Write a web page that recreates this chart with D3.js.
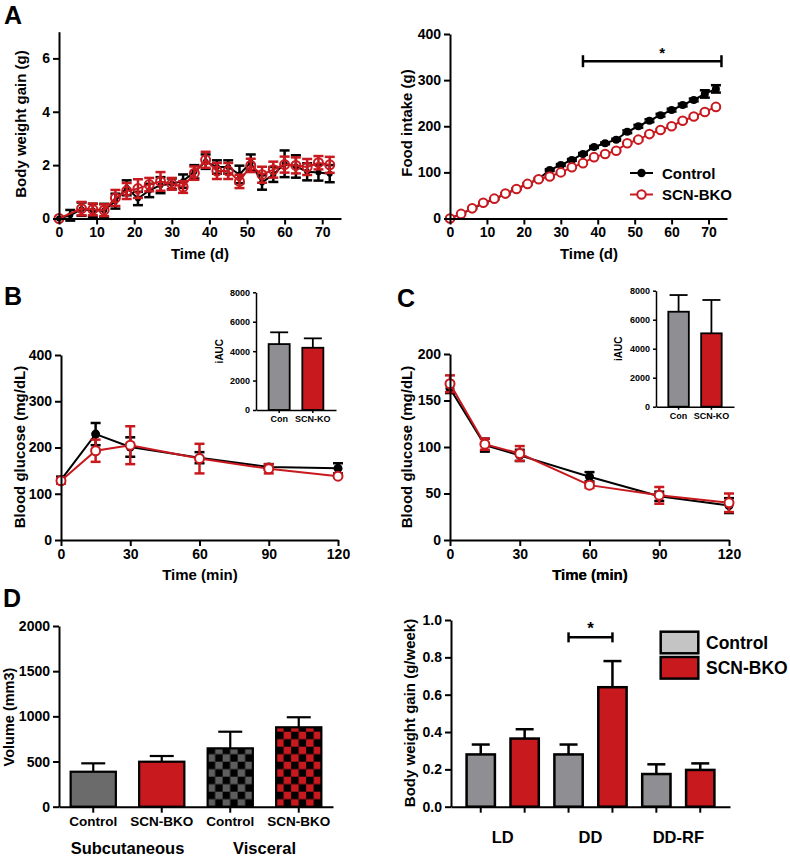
<!DOCTYPE html>
<html><head><meta charset="utf-8">
<script src="https://cdn.jsdelivr.net/npm/d3@7"></script>
<style>
body{margin:0;background:#fff}
text{font-family:"Liberation Sans",Arial,sans-serif;font-weight:bold}
</style>
</head><body>
<svg id="c" width="790" height="859"></svg>
<script>
// ---------------- DATA ----------------
const daysA = [0,3,6,9,12,15,18,21,24,27,30,33,36,39,42,45,48,51,54,57,60,63,66,69,72];
const bwCtrl    = [0,0.12,0.35,0.3,0.3,0.65,1.15,0.75,1.05,1.25,1.3,1.4,1.75,2.13,1.93,1.93,1.65,2.1,1.35,1.65,2.05,1.95,1.75,1.72,1.68];
const bwCtrlErr = [0,0.2,0.25,0.25,0.25,0.28,0.28,0.25,0.25,0.3,0.2,0.25,0.25,0.27,0.25,0.25,0.33,0.3,0.27,0.28,0.5,0.42,0.32,0.3,0.32];
const bwScn     = [0,null,0.37,0.34,0.31,0.77,1.03,1.12,1.27,1.39,1.3,1.18,1.7,2.2,1.78,1.78,1.39,1.99,1.64,1.83,2.02,1.99,1.93,2.09,2.01];
const bwScnErr  = [0,null,0.25,0.22,0.22,0.3,0.3,0.35,0.25,0.35,0.22,0.22,0.25,0.3,0.3,0.3,0.25,0.25,0.3,0.3,0.3,0.3,0.3,0.25,0.3];

const foodCtrl    = [0,10,21,33,42,53,64,75,86,105,116,127,140,155,163,171,188,200,212,224,235,246,257,270,281];
const foodCtrlErr = [0,1,1,1,1,1,1,2,2,2,2,2,2,2,2,2,3,3,3,3,3,3,3,8,8];
const foodScn     = [0,10,22,34,43,54,64,75,85,91,100,111,120,133,140,147,163,171,183,192,200,212,221,231,242];
const foodScnErr  = [0,1,1,1,1,1,1,1,1,1,1,1,1,1,1,1,1,2,2,2,2,2,2,2,2];
const foodSig = {from:36, to:73.5, level:341};

const timesGlu = [0,15,30,60,90,120];
const gttCtrl    = [130,229,201,178,158,155];
const gttCtrlErr = [7,24,21,12,6,11];
const gttScn     = [128,193,205,176,154,138];
const gttScnErr  = [6,24,41,32,10,3];
const iaucGtt    = [4480,4230];
const iaucGttErr = [800,640];

const ittCtrl    = [163,102,91,68,47,37];
const ittCtrlErr = [5,7,6,5,5,8];
const ittScn     = [168,103,93,59,48,40];
const ittScnErr  = [9,6,8,3,9,10];
const iaucItt    = [6550,5060];
const iaucIttErr = [1150,2300];
const iaucCats   = ["Con","SCN-KO"];

const volIds    = ["subCtrl","subScn","visCtrl","visScn"];
const volLabels = ["Control","SCN-BKO","Control","SCN-BKO"];
const volGroups = ["Subcutaneous","Visceral"];
const volValues = [387,498,646,879];
const volErr    = [93,63,184,111];

const gainConds   = ["LD","DD","DD-RF"];
const gainCtrl    = [0.28,0.28,0.175];
const gainCtrlErr = [0.053,0.053,0.052];
const gainScn     = [0.365,0.64,0.197];
const gainScnErr  = [0.05,0.14,0.035];
const gainSig = {cond:"DD", level:0.907};

const seriesNames = ["Control","SCN-BKO"];

// ---------------- STYLE ----------------
const RED = "#C8191F", GREY = "#8E8E93", DGREY = "#6B6B6B", LGREY = "#C4C4C4";
const svg = d3.select("#c");

function styleAxis(g, fs, sw){
  g.select(".domain").attr("stroke","#000").attr("stroke-width",sw);
  g.selectAll(".tick line").attr("stroke","#000").attr("stroke-width",sw);
  g.selectAll(".tick text").attr("font-size",fs).attr("fill","#000");
}
function leftAxis(x0, y, ticks, fmt, fs, ts, sw){
  const g = svg.append("g").attr("transform",`translate(${x0},0)`)
    .call(d3.axisLeft(y).tickValues(ticks).tickFormat(fmt).tickSize(ts).tickSizeOuter(0).tickPadding(3));
  styleAxis(g, fs, sw); return g;
}
function bottomAxis(y0, x, ticks, fmt, fs, ts, sw, pad){
  const a = d3.axisBottom(x).tickSize(ts).tickSizeOuter(0).tickPadding(pad||3);
  if (ticks) a.tickValues(ticks);
  if (fmt) a.tickFormat(fmt);
  const g = svg.append("g").attr("transform",`translate(0,${y0})`).call(a);
  styleAxis(g, fs, sw); return g;
}
function text(x,y,s,fs,opt){
  opt = opt||{};
  const t = svg.append("text").attr("x",x).attr("y",y).attr("font-size",fs)
    .attr("text-anchor",opt.anchor||"middle").attr("dominant-baseline",opt.base||"central").text(s);
  if (opt.rot) t.attr("transform",`rotate(-90,${x},${y})`);
  return t;
}
function errBars(xs, ys, es, x, y, color, cap, sw){
  const d = xs.map((t,i)=>({t,v:ys[i],e:es[i]})).filter(d=>d.v!=null && d.e>0);
  const g = svg.append("g").attr("stroke",color).attr("stroke-width",sw);
  g.selectAll(".v").data(d).join("line").attr("x1",d=>x(d.t)).attr("x2",d=>x(d.t))
    .attr("y1",d=>y(d.v-d.e)).attr("y2",d=>y(d.v+d.e));
  g.selectAll(".c1").data(d).join("line").attr("x1",d=>x(d.t)-cap).attr("x2",d=>x(d.t)+cap)
    .attr("y1",d=>y(d.v+d.e)).attr("y2",d=>y(d.v+d.e));
  g.selectAll(".c2").data(d).join("line").attr("x1",d=>x(d.t)-cap).attr("x2",d=>x(d.t)+cap)
    .attr("y1",d=>y(d.v-d.e)).attr("y2",d=>y(d.v-d.e));
}
function series(xs, ys, es, x, y, color, opt){
  errBars(xs, ys, es, x, y, color, opt.cap||5, opt.esw||2.5);
  const d = xs.map((t,i)=>({t,v:ys[i]})).filter(d=>d.v!=null);
  svg.append("path").datum(d).attr("fill","none").attr("stroke",color).attr("stroke-width",opt.lw||2)
    .attr("d", d3.line().x(d=>x(d.t)).y(d=>y(d.v)));
  svg.append("g").selectAll("circle").data(d).join("circle")
    .attr("cx",d=>x(d.t)).attr("cy",d=>y(d.v)).attr("r",opt.r)
    .attr("fill",opt.open? opt.fill : color)
    .attr("stroke",opt.open? color : "none").attr("stroke-width",opt.open? 2:0);
}
function barErr(cx, top, errTop, cap, sw){
  svg.append("line").attr("x1",cx).attr("x2",cx).attr("y1",top).attr("y2",errTop).attr("stroke","#000").attr("stroke-width",sw);
  svg.append("line").attr("x1",cx-cap).attr("x2",cx+cap).attr("y1",errTop).attr("y2",errTop).attr("stroke","#000").attr("stroke-width",sw);
}

// ---------------- PANEL LABELS ----------------
text(4,24,"A",25,{anchor:"start",base:"auto"});
text(4,305,"B",25,{anchor:"start",base:"auto"});
text(397,307,"C",25,{anchor:"start",base:"auto"});
text(3,607,"D",25,{anchor:"start",base:"auto"});

// ---------------- A left: body weight gain ----------------
{
  const x = d3.scaleLinear().domain([0,75]).range([59,341]);
  const y = d3.scaleLinear().domain([0,7]).range([218.5,31.7]);
  series(daysA, bwCtrl, bwCtrlErr, x, y, "#000", {r:3, cap:5, esw:2.5});
  series(daysA, bwScn, bwScnErr, x, y, RED, {r:4.5, open:true, fill:"none", cap:5, esw:2.5});
  leftAxis(59, y, [0,2,4,6], d3.format("d"), 14, 6, 2);
  bottomAxis(218.5, x, [0,10,20,30,40,50,60,70], d3.format("d"), 14, 6, 2, 3);
  text(20,124,"Body weight gain (g)",15,{rot:true});
  text(200,253,"Time (d)",15);
}

// ---------------- A right: food intake ----------------
{
  const x = d3.scaleLinear().domain([0,75]).range([450,727]);
  const y = d3.scaleLinear().domain([0,400]).range([218.5,34]);
  series(daysA, foodCtrl, foodCtrlErr, x, y, "#000", {r:4, cap:5, esw:2.5});
  series(daysA, foodScn, foodScnErr, x, y, RED, {r:4.3, open:true, fill:"#fff", cap:5, esw:2.5});
  leftAxis(450, y, [0,100,200,300,400], d3.format("d"), 14, 6, 2);
  bottomAxis(218.5, x, [0,10,20,30,40,50,60,70], d3.format("d"), 14, 6, 2, 3);
  text(406,123,"Food intake (g)",15,{rot:true});
  text(589,253,"Time (d)",15);
  // significance bar
  const ys = y(foodSig.level);
  svg.append("line").attr("x1",x(foodSig.from)).attr("x2",x(foodSig.to)).attr("y1",ys).attr("y2",ys).attr("stroke","#000").attr("stroke-width",2.5);
  [foodSig.from, foodSig.to].forEach(v=>svg.append("line").attr("x1",x(v)).attr("x2",x(v)).attr("y1",ys-6).attr("y2",ys+6).attr("stroke","#000").attr("stroke-width",2.5));
  text(x((foodSig.from+foodSig.to)/2)+10, ys-9, "*", 15);
  // legend
  const lg = [{n:seriesNames[0],c:"#000",open:false,y:173},{n:seriesNames[1],c:RED,open:true,y:194.5}];
  lg.forEach(l=>{
    svg.append("line").attr("x1",630).attr("x2",653).attr("y1",l.y).attr("y2",l.y).attr("stroke",l.c).attr("stroke-width",2);
    svg.append("circle").attr("cx",641.5).attr("cy",l.y).attr("r",4.2)
      .attr("fill",l.open?"#fff":l.c).attr("stroke",l.open?l.c:"none").attr("stroke-width",2);
    text(662,l.y,l.n,15,{anchor:"start"});
  });
}

// ---------------- glucose panels ----------------
function gluPanel(xr, yDomain, yTicks, ctrl, ctrlE, scn, scnE, labX, titleX){
  const x = d3.scaleLinear().domain([0,120]).range(xr);
  const y = d3.scaleLinear().domain(yDomain).range([540, yDomain[1]===400?355:354]);
  series(timesGlu, ctrl, ctrlE, x, y, "#000", {r:4.5, cap:5, esw:2.5});
  series(timesGlu, scn, scnE, x, y, RED, {r:4.5, open:true, fill:"#fff", cap:5, esw:2.5});
  leftAxis(xr[0], y, yTicks, d3.format("d"), 14, 6, 2);
  bottomAxis(540, x, [0,30,60,90,120], d3.format("d"), 14, 6, 2, 3);
  text(labX,447,"Blood glucose (mg/dL)",15,{rot:true});
  text(titleX,574,"Time (min)",15);
}
gluPanel([61,338],[0,400],[0,100,200,300,400], gttCtrl, gttCtrlErr, gttScn, gttScnErr, 19, 200);
gluPanel([450,729],[0,200],[0,50,100,150,200], ittCtrl, ittCtrlErr, ittScn, ittScnErr, 406, 590);

function inset(xr, yr, vals, errs, labX){
  const x = d3.scaleBand().domain(iaucCats).range(xr).padding(0.375);
  const y = d3.scaleLinear().domain([0,8000]).range(yr);
  vals.forEach((v,i)=>{
    const cx = x(iaucCats[i]) + x.bandwidth()/2;
    barErr(cx, y(v), y(v+errs[i]), 9, 1.8);
  });
  svg.append("g").selectAll("rect").data(vals).join("rect")
    .attr("x",(d,i)=>x(iaucCats[i])).attr("y",d=>y(d)).attr("width",x.bandwidth()).attr("height",d=>y(0)-y(d))
    .attr("fill",(d,i)=>i===0?GREY:RED).attr("stroke","#000").attr("stroke-width",1.8);
  leftAxis(xr[0], y, [0,2000,4000,6000,8000], d3.format("d"), 9, 3, 1.5);
  bottomAxis(yr[0], x, null, null, 9, 3, 1.5, 3);
  text(labX, (yr[0]+yr[1])/2, "iAUC", 10, {rot:true});
}
inset([256,336],[410,292.3], iaucGtt, iaucGttErr, 220);
inset([656,734],[406.7,290.7], iaucItt, iaucIttErr, 619);

// ---------------- D left: volume ----------------
{
  const defs = svg.append("defs");
  const x = d3.scaleBand().domain(volIds).range([59,333]).paddingInner(0.34).paddingOuter(0.17);
  const y = d3.scaleLinear().domain([0,2000]).range([806.7,626]);
  const s = 7.5;
  [["chkGrey","#5E5E5E",volIds[2]],["chkRed",RED,volIds[3]]].forEach(([id,col,cat])=>{
    const p = defs.append("pattern").attr("id",id).attr("patternUnits","userSpaceOnUse")
      .attr("x",x(cat)).attr("y",y(0)).attr("width",2*s).attr("height",2*s);
    p.append("rect").attr("width",2*s).attr("height",2*s).attr("fill",col);
    p.append("rect").attr("width",s).attr("height",s).attr("fill","#000");
    p.append("rect").attr("x",s).attr("y",s).attr("width",s).attr("height",s).attr("fill","#000");
  });
  const fills = [DGREY, RED, "url(#chkGrey)", "url(#chkRed)"];
  volValues.forEach((v,i)=>{
    const cx = x(volIds[i]) + x.bandwidth()/2;
    barErr(cx, y(v), y(v+volErr[i]), 12, 2.2);
  });
  svg.append("g").selectAll("rect").data(volValues).join("rect")
    .attr("x",(d,i)=>x(volIds[i])).attr("y",d=>y(d)).attr("width",x.bandwidth()).attr("height",d=>y(0)-y(d))
    .attr("fill",(d,i)=>fills[i]).attr("stroke","#000").attr("stroke-width",2.2);
  leftAxis(59, y, [0,500,1000,1500,2000], d3.format("d"), 14, 6, 2);
  bottomAxis(806.7, x, null, (d,i)=>volLabels[i], 13.5, 6, 2, 4);
  text(9,717,"Volume (mm3)",14.5,{rot:true});
  const c = i => x(volIds[i]) + x.bandwidth()/2;
  text((c(0)+c(1))/2, 848, volGroups[0], 16.5);
  text((c(2)+c(3))/2, 848, volGroups[1], 16.5);
}

// ---------------- D right: weekly gain ----------------
{
  const ids = [];
  gainConds.forEach(c=>{ ids.push(c+"|0"); ids.push(c+"|1"); });
  const x = d3.scaleBand().domain(ids).range([451,730]).padding(0.355);
  const y = d3.scaleLinear().domain([0,1]).range([806.7,620]);
  const bars = [];
  gainConds.forEach((c,i)=>{
    bars.push({id:c+"|0", v:gainCtrl[i], e:gainCtrlErr[i], f:GREY});
    bars.push({id:c+"|1", v:gainScn[i], e:gainScnErr[i], f:RED});
  });
  bars.forEach(b=>{
    const cx = x(b.id)+x.bandwidth()/2;
    barErr(cx, y(b.v), y(b.v+b.e), 9, 2.5);
  });
  svg.append("g").selectAll("rect").data(bars).join("rect")
    .attr("x",d=>x(d.id)).attr("y",d=>y(d.v)).attr("width",x.bandwidth()).attr("height",d=>y(0)-y(d.v))
    .attr("fill",d=>d.f).attr("stroke","#000").attr("stroke-width",2.5);
  leftAxis(451, y, [0,0.2,0.4,0.6,0.8,1.0], d3.format(".1f"), 14, 6, 2);
  bottomAxis(806.7, x, null, ()=>"", 14, 6, 2, 3);
  const cc = id => x(id)+x.bandwidth()/2;
  gainConds.forEach(c=> text((cc(c+"|0")+cc(c+"|1"))/2, 837, c, 16.5));
  text(409,713,"Body weight gain (g/week)",15,{rot:true});
  text(590,574,"Time (min)",15);
  // sig bar
  const x1 = cc(gainSig.cond+"|0"), x2 = cc(gainSig.cond+"|1"), ys = y(gainSig.level);
  svg.append("line").attr("x1",x1).attr("x2",x2).attr("y1",ys).attr("y2",ys).attr("stroke","#000").attr("stroke-width",2.5);
  [x1,x2].forEach(v=>svg.append("line").attr("x1",v).attr("x2",v).attr("y1",ys-5).attr("y2",ys+5).attr("stroke","#000").attr("stroke-width",2.5));
  text((x1+x2)/2, ys-9, "*", 17);
  // legend
  [{n:seriesNames[0],f:LGREY,y:631.7},{n:seriesNames[1],f:RED,y:657}].forEach(l=>{
    svg.append("rect").attr("x",660.7).attr("y",l.y).attr("width",37.6).attr("height",21.6)
      .attr("fill",l.f).attr("stroke","#000").attr("stroke-width",2.5);
    text(706,l.y+11,l.n,17.5,{anchor:"start"});
  });
}
</script>
</body></html>
